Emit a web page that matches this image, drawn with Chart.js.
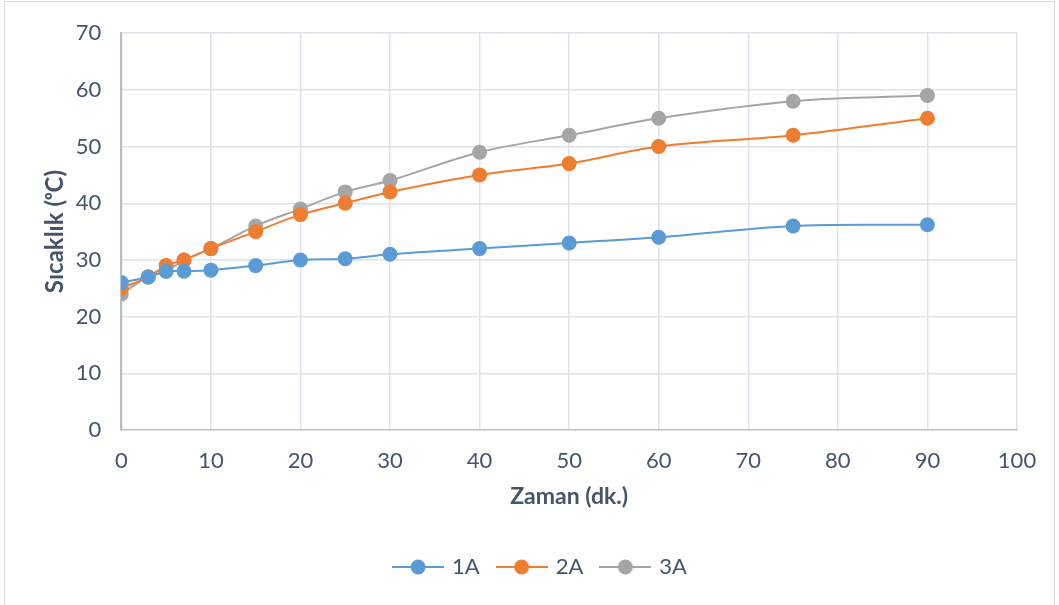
<!DOCTYPE html>
<html>
<head>
<meta charset="utf-8">
<script src="https://cdn.jsdelivr.net/npm/chart.js@4/dist/chart.umd.min.js"></script>
<style>
  html, body { margin: 0; padding: 0; background: #fff; }
  #frame {
    position: absolute; left: 4px; top: 1px; width: 1051px; height: 640px;
    border: 1px solid #d9d9d9; box-sizing: border-box;
  }
  #wrap { position: absolute; left: 0; top: 0; width: 1059px; height: 605px; }
</style>
</head>
<body>
<div id="frame"></div>
<div id="wrap"><canvas id="c" width="1059" height="605"></canvas></div>
<script>
// Time (minutes) and temperature readings for the three samples
const minutes = [0, 3, 5, 7, 10, 15, 20, 25, 30, 40, 50, 60, 75, 90];
const temp1A = [26, 27, 28, 28, 28.2, 29, 30, 30.2, 31, 32, 33, 34, 36, 36.2];
const temp2A = [25, 27, 29, 30, 32, 35, 38, 40, 42, 45, 47, 50, 52, 55];
const temp3A = [24, 27, 28, 30, 32, 36, 39, 42, 44, 49, 52, 55, 58, 59];
const seriesNames = ['1A', '2A', '3A'];
const seriesColors = ['#5b9bd5', '#ed7d31', '#a5a5a5'];
const xTicks = [0, 10, 20, 30, 40, 50, 60, 70, 80, 90, 100];
const yTicks = [0, 10, 20, 30, 40, 50, 60, 70];

const textColor = '#44546a';
const gridColor = '#dde3ea';
const fontFamily = 'Lato, "Open Sans", sans-serif';

// Legend marker: short line with a dot in the middle
function legendMarker(color) {
  const cv = document.createElement('canvas');
  cv.width = 52; cv.height = 16;
  const g = cv.getContext('2d');
  g.strokeStyle = color; g.lineWidth = 2;
  g.beginPath(); g.moveTo(0, 8); g.lineTo(52, 8); g.stroke();
  g.fillStyle = color;
  g.beginPath(); g.arc(26, 8, 7.5, 0, Math.PI * 2); g.fill();
  return cv;
}

// Nudge the legend row a little to the right of the canvas centre
const legendShift = {
  id: 'legendShift',
  afterLayout(chart) {
    if (chart.legend) { chart.legend.left += 12; chart.legend.right += 12; }
  }
};

const seriesData = [temp1A, temp2A, temp3A];
const datasets = seriesData.map((vals, i) => ({
  label: seriesNames[i],
  data: minutes.map((m, j) => ({ x: m, y: vals[j] })),
  borderColor: seriesColors[i],
  backgroundColor: seriesColors[i],
  pointBackgroundColor: seriesColors[i],
  pointBorderColor: seriesColors[i],
  borderWidth: 2,
  pointRadius: 7.5,
  pointBorderWidth: 0,
  tension: 0.35,
  pointStyle: 'circle',
  legendMarker: legendMarker(seriesColors[i])
}));

new Chart(document.getElementById('c'), {
  type: 'line',
  data: { datasets },
  plugins: [legendShift],
  options: {
    responsive: false,
    animation: false,
    devicePixelRatio: 1,
    layout: { padding: { top: 22, right: 42, left: 41, bottom: 17 } },
    plugins: {
      tooltip: { enabled: false },
      legend: {
        position: 'bottom',
        labels: {
          usePointStyle: true,
          pointStyleWidth: 46,
          boxHeight: 16,
          padding: 19,
          color: textColor,
          font: { family: fontFamily, size: 22 },
          generateLabels(chart) {
            return chart.data.datasets.map((ds, i) => ({
              text: ds.label,
              pointStyle: ds.legendMarker,
              fillStyle: ds.backgroundColor,
              strokeStyle: ds.borderColor,
              lineWidth: 0,
              fontColor: textColor,
              hidden: false,
              datasetIndex: i
            }));
          }
        }
      }
    },
    scales: {
      x: {
        type: 'linear',
        min: 0, max: 100,
        afterBuildTicks(axis) { axis.ticks = xTicks.map(v => ({ value: v })); },
        ticks: { color: textColor, font: { family: fontFamily, size: 22 }, padding: 18 },
        grid: { color: gridColor, lineWidth: 1.5, drawTicks: false },
        border: { color: '#bfc7d2', width: 1.5 },
        title: {
          display: true, text: 'Zaman (dk.)', color: textColor,
          font: { family: fontFamily, size: 23, weight: 'bold' }, padding: { top: -10, bottom: 27 }
        }
      },
      y: {
        type: 'linear',
        min: 0, max: 70,
        afterBuildTicks(axis) { axis.ticks = yTicks.map(v => ({ value: v })); },
        ticks: { color: textColor, font: { family: fontFamily, size: 22 }, padding: 20 },
        grid: { color: gridColor, lineWidth: 1.5, drawTicks: false },
        border: { color: '#b4bfcc', width: 2 },
        title: {
          display: true, text: 'Sıcaklık (ᵒC)', color: textColor,
          font: { family: fontFamily, size: 24, weight: 'bold' }, padding: { top: 0, bottom: -14 }
        }
      }
    }
  }
});
</script>
</body>
</html>
